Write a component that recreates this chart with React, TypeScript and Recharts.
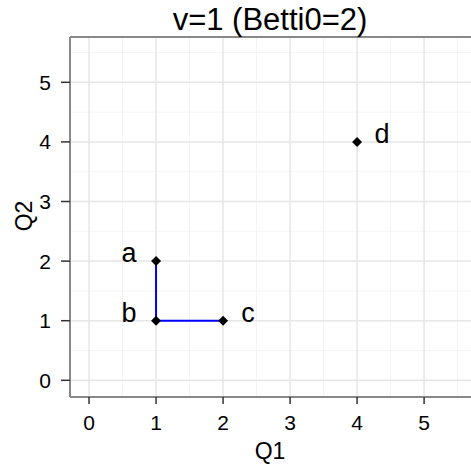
import React from 'react';
import { ScatterChart, Scatter, XAxis, YAxis, ReferenceLine } from 'recharts';

// Vertices of the filtration graph
const POINT_NAMES = ['a', 'b', 'c', 'd'];
const Q1_VALUES = [1, 1, 2, 4];
const Q2_VALUES = [2, 1, 1, 4];
const LABEL_SIDE = ['left', 'left', 'right', 'right'];

// Edges present at v=1
const EDGES: [string, string][] = [
  ['a', 'b'],
  ['b', 'c'],
];

const MAJOR_TICKS = [0, 1, 2, 3, 4, 5];
const MINOR_TICKS = [0.5, 1.5, 2.5, 3.5, 4.5, 5.5];
const X_DOMAIN: [number, number] = [-0.284, 5.7];
const Y_DOMAIN: [number, number] = [-0.28, 5.76];

const TITLE = 'v=1 (Betti0=2)';
const X_TITLE = 'Q1';
const Y_TITLE = 'Q2';

const FONT = '"Liberation Sans", Arial, sans-serif';

const points = POINT_NAMES.map((name, i) => ({
  name,
  q1: Q1_VALUES[i],
  q2: Q2_VALUES[i],
  side: LABEL_SIDE[i],
}));

const edgeData = EDGES.map(([from, to]) =>
  [from, to].map((n) => points.find((p) => p.name === n)!)
);

const Vertex = (props: any) => {
  const { cx, cy, payload } = props;
  if (cx == null || cy == null) return <g />;
  const r = 5;
  const dx = payload.side === 'left' ? -27 : 25;
  return (
    <g>
      <polygon
        points={`${cx},${cy - r} ${cx + r},${cy} ${cx},${cy + r} ${cx - r},${cy}`}
        fill="#000"
      />
      <text
        x={cx + dx}
        y={cy + 1}
        textAnchor="middle"
        fontSize={27}
        fontFamily={FONT}
        fill="#000"
      >
        {payload.name}
      </text>
    </g>
  );
};

const NoShape = () => <g />;

export default function App() {
  return (
    <div style={{ position: 'absolute', left: 0, top: 0, width: 471, height: 475, overflow: 'hidden', background: '#fff' }}>
      <ScatterChart width={471} height={475} margin={{ top: 37, right: 0, bottom: 0, left: 0 }}>
        <XAxis
          type="number"
          dataKey="q1"
          domain={X_DOMAIN}
          allowDataOverflow
          ticks={MAJOR_TICKS}
          height={78}
          tickSize={7}
          tickMargin={11}
          axisLine={{ stroke: '#888', strokeWidth: 2 }}
          tickLine={{ stroke: '#333', strokeWidth: 1.5 }}
          tick={{ fill: '#000', fontSize: 21, fontFamily: FONT }}
        />
        <YAxis
          type="number"
          dataKey="q2"
          domain={Y_DOMAIN}
          allowDataOverflow
          ticks={MAJOR_TICKS}
          width={70}
          tickSize={9}
          tickMargin={10}
          axisLine={{ stroke: '#888', strokeWidth: 2 }}
          tickLine={{ stroke: '#333', strokeWidth: 1.5 }}
          tick={{ fill: '#000', fontSize: 21, fontFamily: FONT }}
        />
        {MINOR_TICKS.map((t) => (
          <ReferenceLine key={`mx${t}`} x={t} stroke="#f4f4f4" strokeWidth={1} />
        ))}
        {MINOR_TICKS.map((t) => (
          <ReferenceLine key={`my${t}`} y={t} stroke="#f4f4f4" strokeWidth={1} />
        ))}
        {MAJOR_TICKS.map((t) => (
          <ReferenceLine key={`Mx${t}`} x={t} stroke="#e6e6e6" strokeWidth={1.5} />
        ))}
        {MAJOR_TICKS.map((t) => (
          <ReferenceLine key={`My${t}`} y={t} stroke="#e6e6e6" strokeWidth={1.5} />
        ))}
        <ReferenceLine y={Y_DOMAIN[1]} stroke="#888" strokeWidth={2} />
        {edgeData.map((seg, i) => (
          <Scatter
            key={`edge${i}`}
            data={seg}
            line={{ stroke: '#0000ff', strokeWidth: 2 }}
            lineType="joint"
            shape={NoShape}
            isAnimationActive={false}
          />
        ))}
        <Scatter data={points} shape={Vertex} isAnimationActive={false} />
      </ScatterChart>
      <svg
        width={471}
        height={475}
        style={{ position: 'absolute', left: 0, top: 0, pointerEvents: 'none' }}
      >
        <text x={270} y={30} textAnchor="middle" fontSize={31} fontFamily={FONT} fill="#000">
          {TITLE}
        </text>
        <text x={270} y={458.5} textAnchor="middle" fontSize={23} fontFamily={FONT} fill="#000">
          {X_TITLE}
        </text>
        <text
          transform="translate(32,216) rotate(-90)"
          textAnchor="middle"
          fontSize={23}
          fontFamily={FONT}
          fill="#000"
        >
          {Y_TITLE}
        </text>
      </svg>
    </div>
  );
}
